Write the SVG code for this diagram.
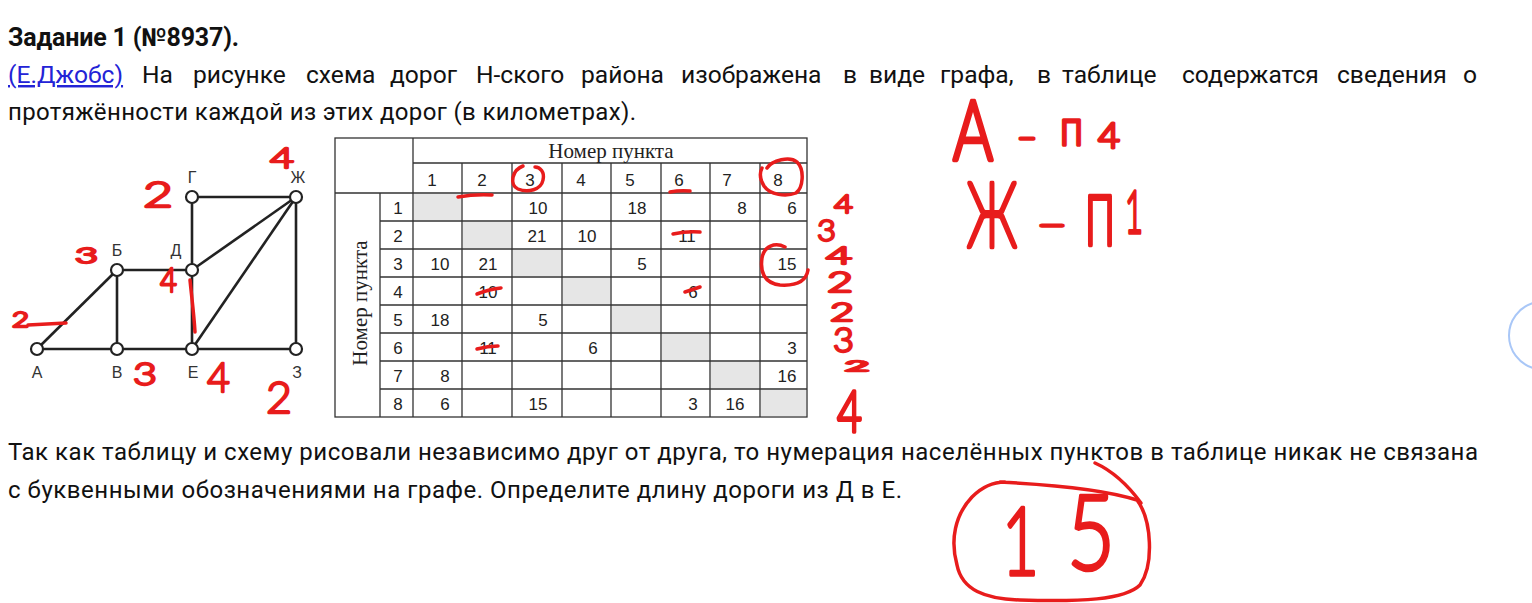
<svg xmlns="http://www.w3.org/2000/svg" width="1532" height="603" viewBox="0 0 1532 603">
<style>
.t{font-family:Roboto,"Liberation Sans",sans-serif;font-size:24px;fill:#111}
.ttl{font-family:Roboto,"Liberation Sans",sans-serif;font-size:25px;font-weight:bold;fill:#111}
.lnk{fill:#2323d6;text-decoration:underline}
.edge{stroke:#222;stroke-width:2.6;fill:none}
.node circle{fill:#fff;stroke:#222;stroke-width:2.2}
.nl{font-family:"Liberation Sans",Arial,sans-serif;font-size:16px;fill:#333;text-anchor:middle}
.grid{stroke:#333;stroke-width:1.3;fill:none}
.sh{fill:#e6e6e6}
.num{font-family:"Liberation Sans",Arial,sans-serif;font-size:17px;fill:#222;text-anchor:middle}
.hdr{font-family:"Liberation Serif","Times New Roman",serif;font-size:21px;fill:#222;text-anchor:middle}
.hw{font-family:Lato,"DejaVu Sans",sans-serif;font-weight:300;fill:#e81c1c;stroke:#e81c1c;stroke-width:2.3;stroke-linejoin:round;stroke-linecap:round}
.rs{stroke:#e81c1c;stroke-width:3.5;fill:none;stroke-linecap:round;stroke-linejoin:round}
</style>

<g id="text">
<text class="ttl" x="8" y="46" textLength="231">Задание 1 (№8937).</text>
<text class="t" y="83" style="font-size:24.6px"><tspan class="lnk" x="8">(Е.Джобс)</tspan><tspan x="142">На</tspan><tspan x="193">рисунке</tspan><tspan x="306">схема</tspan><tspan x="390">дорог</tspan><tspan x="476">Н-ского</tspan><tspan x="581">района</tspan><tspan x="681">изображена</tspan><tspan x="843">в</tspan><tspan x="869">виде</tspan><tspan x="940">графа,</tspan><tspan x="1037">в</tspan><tspan x="1062">таблице</tspan><tspan x="1182">содержатся</tspan><tspan x="1337">сведения</tspan><tspan x="1463">о</tspan></text>
<text class="t" x="8" y="120" textLength="628">протяжённости каждой из этих дорог (в километрах).</text>
<text class="t" x="8" y="460" textLength="1470">Так как таблицу и схему рисовали независимо друг от друга, то нумерация населённых пунктов в таблице никак не связана</text>
<text class="t" x="8" y="498" textLength="894">с буквенными обозначениями на графе. Определите длину дороги из Д в Е.</text>
</g>

<g id="connectors">
<line class="edge" x1="37" y1="349" x2="117" y2="270"/>
<line class="edge" x1="37" y1="349" x2="117" y2="349"/>
<line class="edge" x1="117" y1="270" x2="117" y2="349"/>
<line class="edge" x1="117" y1="270" x2="192" y2="270"/>
<line class="edge" x1="117" y1="349" x2="192" y2="349"/>
<line class="edge" x1="192" y1="349" x2="296" y2="349"/>
<line class="edge" x1="192" y1="197" x2="192" y2="270"/>
<line class="edge" x1="192" y1="270" x2="192" y2="349"/>
<line class="edge" x1="192" y1="197" x2="296" y2="197"/>
<line class="edge" x1="192" y1="270" x2="296" y2="197"/>
<line class="edge" x1="192" y1="349" x2="296" y2="197"/>
<line class="edge" x1="296" y1="197" x2="296" y2="349"/>
</g>

<g id="node-A" class="node"><circle cx="37" cy="349" r="6"/><text class="nl" x="37" y="378">А</text></g>
<g id="node-B" class="node"><circle cx="117" cy="349" r="6"/><text class="nl" x="117" y="378">В</text></g>
<g id="node-E" class="node"><circle cx="192" cy="349" r="6"/><text class="nl" x="193" y="378">Е</text></g>
<g id="node-Z" class="node"><circle cx="296" cy="349" r="6"/><text class="nl" x="297" y="378">З</text></g>
<g id="node-Bb" class="node"><circle cx="117" cy="270" r="6"/><text class="nl" x="117" y="256">Б</text></g>
<g id="node-D" class="node"><circle cx="192" cy="270" r="6"/><text class="nl" x="176" y="256">Д</text></g>
<g id="node-G" class="node"><circle cx="192" cy="197" r="6"/><text class="nl" x="192" y="183">Г</text></g>
<g id="node-Zh" class="node"><circle cx="296" cy="197" r="6"/><text class="nl" x="298" y="183">Ж</text></g>

<g id="table">
<rect class="sh" x="414" y="194" width="47" height="26"/>
<rect class="sh" x="463" y="222" width="48" height="26"/>
<rect class="sh" x="513" y="250" width="48" height="26"/>
<rect class="sh" x="563" y="278" width="47" height="26"/>
<rect class="sh" x="612" y="306" width="48" height="26"/>
<rect class="sh" x="662" y="334" width="47" height="26"/>
<rect class="sh" x="711" y="362" width="48" height="26"/>
<rect class="sh" x="761" y="390" width="45" height="26"/>
<rect class="grid" x="335" y="138" width="472" height="279" stroke-width="1.8"/>
<path class="grid" d="M413,163H807M335,193H807M380,221H807M380,249H807M380,277H807M380,305H807M380,333H807M380,361H807M380,389H807M413,138V417M462,163V417M512,163V417M562,163V417M611,163V417M661,163V417M710,163V417M760,163V417M380,193V417"/>
<text class="hdr" x="611" y="158">Номер пункта</text>
<text class="hdr" transform="translate(367,303) rotate(-90)">Номер пункта</text>
<g class="num">
<text x="432" y="186">1</text><text x="482" y="186">2</text><text x="530" y="186">3</text><text x="581" y="186">4</text><text x="630" y="186">5</text><text x="679" y="186">6</text><text x="727" y="186">7</text><text x="778" y="186">8</text>
<text x="398" y="214">1</text><text x="398" y="242">2</text><text x="398" y="270">3</text><text x="398" y="298">4</text><text x="398" y="326">5</text><text x="398" y="354">6</text><text x="398" y="382">7</text><text x="398" y="410">8</text>
<text x="538" y="214">10</text><text x="637" y="214">18</text><text x="742" y="214">8</text><text x="792" y="214">6</text>
<text x="537" y="242">21</text><text x="587" y="242">10</text><text x="687" y="242">11</text>
<text x="440" y="270">10</text><text x="488" y="270">21</text><text x="642" y="270">5</text><text x="787" y="270">15</text>
<text x="488" y="298">10</text><text x="693" y="298">6</text>
<text x="440" y="326">18</text><text x="543" y="326">5</text>
<text x="488" y="354">11</text><text x="593" y="354">6</text><text x="792" y="354">3</text>
<text x="445" y="382">8</text><text x="787" y="382">16</text>
<text x="445" y="410">6</text><text x="538" y="410">15</text><text x="693" y="410">3</text><text x="735" y="410">16</text>
</g>
</g>

<g id="annotations">
<path class="rs" d="M458,197 Q475,194 492,195"/>
<path class="rs" d="M523,166 C512,170 509,185 518,189 C528,193 541,190 543,180 C545,172 540,167 535,167"/>
<path class="rs" d="M670,192 Q680,190 690,191"/>
<path class="rs" d="M767,168 C772,160 790,156 797,162 C805,170 803,188 796,193 C786,197 770,195 764,186 C759,178 760,172 762,168"/>
<path class="rs" d="M673,234 Q687,231 700,232"/>
<path class="rs" d="M785,247 C775,242 764,246 762,258 C760,272 764,283 780,285 C795,286 806,282 808,270"/>
<path class="rs" d="M477,294 Q490,289 501,288"/>
<path class="rs" d="M685,292 L700,287"/>
<path class="rs" d="M477,349 Q488,346 498,346"/>
<path class="rs" d="M190,280 C192,300 194,315 195,332" stroke-width="5"/>
<path class="rs" d="M28,325 L66,323"/>
<path class="rs" d="M1095,463 C1115,472 1130,488 1141,503"/>
<path class="rs" d="M1000,482 C1040,484 1100,488 1137,500 C1152,520 1154,565 1140,585 C1125,600 1080,602 1020,600 C985,599 962,590 957,565 C950,540 955,515 972,497 C982,487 992,482 1005,482"/>
<g class="hw">
<text x="270" y="168" font-size="28" textLength="24" lengthAdjust="spacingAndGlyphs">4</text>
<text x="143" y="207" font-size="35" textLength="30" lengthAdjust="spacingAndGlyphs">2</text>
<text x="75" y="263" font-size="22" textLength="23" lengthAdjust="spacingAndGlyphs">3</text>
<text x="160" y="292" font-size="33" textLength="17" lengthAdjust="spacingAndGlyphs">4</text>
<text x="12" y="327" font-size="21" textLength="17" lengthAdjust="spacingAndGlyphs">2</text>
<text x="133" y="385" font-size="32" textLength="24" lengthAdjust="spacingAndGlyphs">3</text>
<text x="207" y="392" font-size="42" textLength="23" lengthAdjust="spacingAndGlyphs">4</text>
<text x="266" y="413" font-size="44" textLength="26" lengthAdjust="spacingAndGlyphs">2</text>
<text x="834" y="213" font-size="26" textLength="19" lengthAdjust="spacingAndGlyphs">4</text>
<text x="817" y="241" font-size="30" textLength="19" lengthAdjust="spacingAndGlyphs">3</text>
<text x="826" y="264" font-size="24" textLength="26" lengthAdjust="spacingAndGlyphs">4</text>
<text x="827" y="292" font-size="27" textLength="26" lengthAdjust="spacingAndGlyphs">2</text>
<text x="830" y="321" font-size="25" textLength="24" lengthAdjust="spacingAndGlyphs">2</text>
<text x="833" y="352" font-size="33" textLength="21" lengthAdjust="spacingAndGlyphs">3</text>
<text x="845" y="371" font-size="14" textLength="24" lengthAdjust="spacingAndGlyphs">2</text>
<text x="837" y="432" font-size="58" textLength="25" lengthAdjust="spacingAndGlyphs" stroke-width="3.5">4</text>
<text x="953" y="160" font-size="83" textLength="40" lengthAdjust="spacingAndGlyphs" stroke-width="4.5">А</text>
<text x="1017" y="147" font-size="30" textLength="20" lengthAdjust="spacingAndGlyphs" stroke-width="3">–</text>
<text x="1060" y="145" font-size="50" textLength="23" lengthAdjust="spacingAndGlyphs" stroke-width="3.5">п</text>
<text x="1098" y="148" font-size="36" textLength="22" lengthAdjust="spacingAndGlyphs" stroke-width="3">4</text>
<text x="967" y="247" font-size="90" textLength="50" lengthAdjust="spacingAndGlyphs" stroke-width="4.5">Ж</text>
<text x="1037" y="234" font-size="30" textLength="30" lengthAdjust="spacingAndGlyphs" stroke-width="3">–</text>
<text x="1085" y="245" font-size="69" textLength="30" lengthAdjust="spacingAndGlyphs" stroke-width="4.5">П</text>
<text x="1125" y="233" font-size="60" textLength="18" lengthAdjust="spacingAndGlyphs" stroke-width="3.5">1</text>
<text x="1002" y="575" font-size="94" textLength="37" lengthAdjust="spacingAndGlyphs" stroke-width="3.5">1</text>
<text x="1067" y="570" font-size="104" textLength="48" lengthAdjust="spacingAndGlyphs" stroke-width="3.5">5</text>
</g>
<path d="M1533,303 A34,34 0 0 0 1533,368" stroke="#a9c7f7" stroke-width="2" fill="none"/>
</g>
</svg>
